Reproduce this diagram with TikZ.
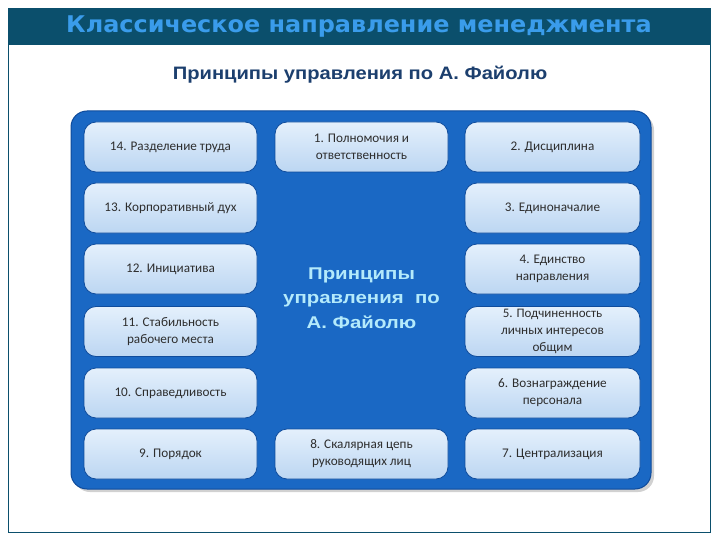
\documentclass[tikz,border=0pt]{standalone}
\usepackage{fontspec}
\setmainfont{Liberation Sans}
\newfontfamily\boxfont{Carlito}
\newfontfamily\titlefont[FakeStretch=1.04]{DejaVu Sans}
\newfontfamily\widesans[FakeStretch=1.12]{Liberation Sans}
\newfontfamily\centsans[FakeStretch=1.2]{Liberation Sans}
\usetikzlibrary{shadows}
\definecolor{barcol}{HTML}{0B4F6C}
\definecolor{titcol}{HTML}{3A9CEB}
\definecolor{subcol}{HTML}{1C3F6E}
\definecolor{panelcol}{HTML}{1A68C4}
\definecolor{paneledge}{HTML}{0E4A9A}
\definecolor{boxtop}{HTML}{E4F0FC}
\definecolor{boxbot}{HTML}{BCD6F2}
\definecolor{boxedge}{HTML}{0F4C9C}
\definecolor{boxtext}{HTML}{2E2E2E}
\definecolor{centcol}{HTML}{B4EAFB}
\tikzset{
  principle/.style={draw=boxedge, line width=0.8pt, rounded corners=12pt,
    top color=boxtop, bottom color=boxbot, minimum height=50pt,
    text=boxtext, align=center, font=\boxfont\fontsize{13.2}{17}\selectfont,
    inner sep=1pt},
  leftcol/.style={principle, minimum width=173pt},
  midcol/.style={principle, minimum width=173pt},
  rightcol/.style={principle, minimum width=175pt}
}
\begin{document}
\begin{tikzpicture}[x=1pt,y=-1pt]
\useasboundingbox (0,0) rectangle (720,540);
\fill[white] (0,0) rectangle (720,540);
% outer frame
\draw[barcol, line width=0.8pt] (8,8) rectangle (710,532);
\fill[barcol] (8,8) rectangle (710,45);
\node (title) at (359,26.5) {\titlefont\bfseries\fontsize{23}{27}\selectfont
  \textcolor{titcol}{Классическое направление менеджмента}};
\node (sub) at (360,75) {\widesans\bfseries\fontsize{18}{21}\selectfont\textcolor{subcol}{Принципы управления по А.~Файолю}};
% panel
\fill[black!18, rounded corners=16pt] (74,114) rectangle (654,492);
\draw[paneledge, fill=panelcol, line width=1pt, rounded corners=16pt] (71,111) rectangle (651,489);
% boxes
\node[leftcol] (p14) at (170.5,147) {14. Разделение труда};
\node[midcol] (p1) at (361.5,147) {1. Полномочия и\\ответственность};
\node[rightcol] (p2) at (552.5,147) {2. Дисциплина};
\node[leftcol] (p13) at (170.5,208) {13. Корпоративный дух};
\node[rightcol] (p3) at (552.5,208) {3. Единоначалие};
\node[leftcol] (p12) at (170.5,269) {12. Инициатива};
\node[rightcol] (p4) at (552.5,269) {4. Единство\\направления};
\node[leftcol] (p11) at (170.5,331.5) {11. Стабильность\\рабочего места};
\node[rightcol] (p5) at (552.5,331.5) {\fontsize{13}{16.5}\selectfont 5. Подчиненность\\личных интересов\\общим};
\node[leftcol] (p10) at (170.5,393) {10. Справедливость};
\node[rightcol] (p6) at (552.5,393) {6. Вознаграждение\\персонала};
\node[leftcol] (p9) at (170.5,454) {9. Порядок};
\node[midcol] (p8) at (361.5,454) {8. Скалярная цепь\\руководящих лиц};
\node[rightcol] (p7) at (552.5,454) {7. Централизация};
% centre text
\node[align=center, text=centcol, font=\centsans\bfseries\fontsize{17}{24.5}\selectfont] (centre) at (361.5,298)
  {Принципы\\управления\ \ по\\А. Файолю};
\end{tikzpicture}
\end{document}
